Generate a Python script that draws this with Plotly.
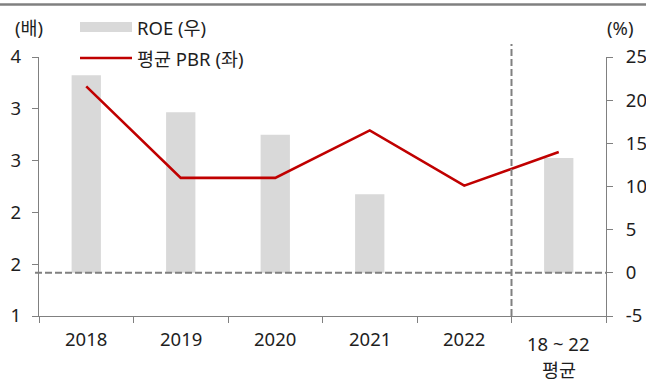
import plotly.graph_objects as go

# Data
categories = ["2018", "2019", "2020", "2021", "2022", "18 ~ 22 평균"]
x_label_lines = [["2018"], ["2019"], ["2020"], ["2021"], ["2022"], ["18 ~ 22", "평균"]]
roe = [22.9, 18.6, 16.0, 9.1, 0.0, 13.3]          # ROE (%), right axis
pbr = [3.66, 2.60, 2.60, 3.15, 2.51, 2.90]         # 평균 PBR (배), left axis
left_tickvals = [1.0, 1.6, 2.2, 2.8, 3.4, 4.0]
left_ticktext = ["1", "2", "2", "3", "3", "4"]
right_tickvals = [-5, 0, 5, 10, 15, 20, 25]
right_ticktext = ["-5", "0", "5", "10", "15", "20", "25"]

W, H = 646, 385
L, R, T, B = 39, 606, 57, 316   # plot area in pixels
FONT = "Noto Sans, Noto Sans CJK KR"
FS = 18.5
TXT = "#1e1e1e"
GRAY = "#808080"
RED = "#C00000"
BAR = "#D9D9D9"


def px(xp):
    return (xp - L) / (R - L)


def py(yp):
    return (B - yp) / (B - T)


fig = go.Figure()

fig.add_trace(go.Bar(
    x=categories, y=roe, yaxis="y", marker=dict(color=BAR, line=dict(width=0)),
    width=0.31, name="ROE (우)", showlegend=False,
))
fig.add_trace(go.Scatter(
    x=categories, y=pbr, yaxis="y2", mode="lines",
    line=dict(color=RED, width=2.6), name="평균 PBR (좌)", showlegend=False,
))

shapes = [
    # top border rule
    dict(type="line", xref="paper", yref="paper", x0=px(0), x1=px(W), y0=py(4.5), y1=py(4.5),
         line=dict(color=GRAY, width=2.5)),
    # zero line of ROE axis
    dict(type="line", xref="paper", yref="y", x0=px(35), x1=1.0, y0=0, y1=0,
         line=dict(color=GRAY, width=2, dash="7px,3px"), layer="above"),
    # separator before the average
    dict(type="line", xref="x", yref="paper", x0=4.5, x1=4.5, y0=0, y1=py(44),
         line=dict(color=GRAY, width=2, dash="7px,3px"), layer="above"),
    # legend keys
    dict(type="rect", xref="paper", yref="paper", x0=px(80), x1=px(132), y0=py(32), y1=py(22),
         fillcolor=BAR, line=dict(width=0)),
    dict(type="line", xref="paper", yref="paper", x0=px(80), x1=px(132), y0=py(58), y1=py(58),
         line=dict(color=RED, width=2.6)),
]

annotations = [
    dict(text="ROE (우)", x=px(135), y=py(27), xanchor="left", yanchor="middle"),
    dict(text="평균 PBR (좌)", x=px(135), y=py(58), xanchor="left", yanchor="middle"),
    dict(text="(배)", x=px(13), y=py(27), xanchor="left", yanchor="middle"),
    dict(text="(%)", x=px(605), y=py(27), xanchor="left", yanchor="middle"),
]
for a in annotations:
    a.update(xref="paper", yref="paper", showarrow=False, font=dict(family=FONT, size=FS, color=TXT))

# category labels under the axis
for i, lines in enumerate(x_label_lines):
    if len(lines) == 1:
        centers = [338]
    else:
        centers = [343.5, 369.5]
    for line_text, cy in zip(lines, centers):
        annotations.append(dict(
            text=line_text, xref="x", yref="paper", x=i, y=py(cy),
            xanchor="center", yanchor="middle", showarrow=False,
            font=dict(family=FONT, size=FS, color=TXT),
        ))

axis_common = dict(
    ticks="outside", ticklen=6, tickcolor=GRAY, tickwidth=1.3,
    showline=True, linecolor=GRAY, linewidth=1.3, showgrid=False, zeroline=False,
    automargin=False,
)

fig.update_layout(
    width=W, height=H,
    margin=dict(l=L, r=W - R, t=T, b=H - B, pad=0),
    paper_bgcolor="white", plot_bgcolor="white",
    font=dict(family=FONT, size=FS, color=TXT),
    xaxis=dict(
        type="category", categoryorder="array", categoryarray=categories,
        range=[-0.5, 5.5], showticklabels=False, tickson="boundaries",
        **axis_common,
    ),
    yaxis=dict(
        side="right", range=[-5, 25], tickvals=right_tickvals, ticktext=right_ticktext,
        ticklabelstandoff=9, tickfont=dict(family=FONT, size=FS, color=TXT),
        **axis_common,
    ),
    yaxis2=dict(
        side="left", overlaying="y", range=[1, 4],
        tickvals=left_tickvals, ticktext=left_ticktext,
        ticklabelstandoff=7, tickfont=dict(family=FONT, size=FS, color=TXT),
        **axis_common,
    ),
    shapes=shapes,
    annotations=annotations,
)

fig.write_html("out.html")
